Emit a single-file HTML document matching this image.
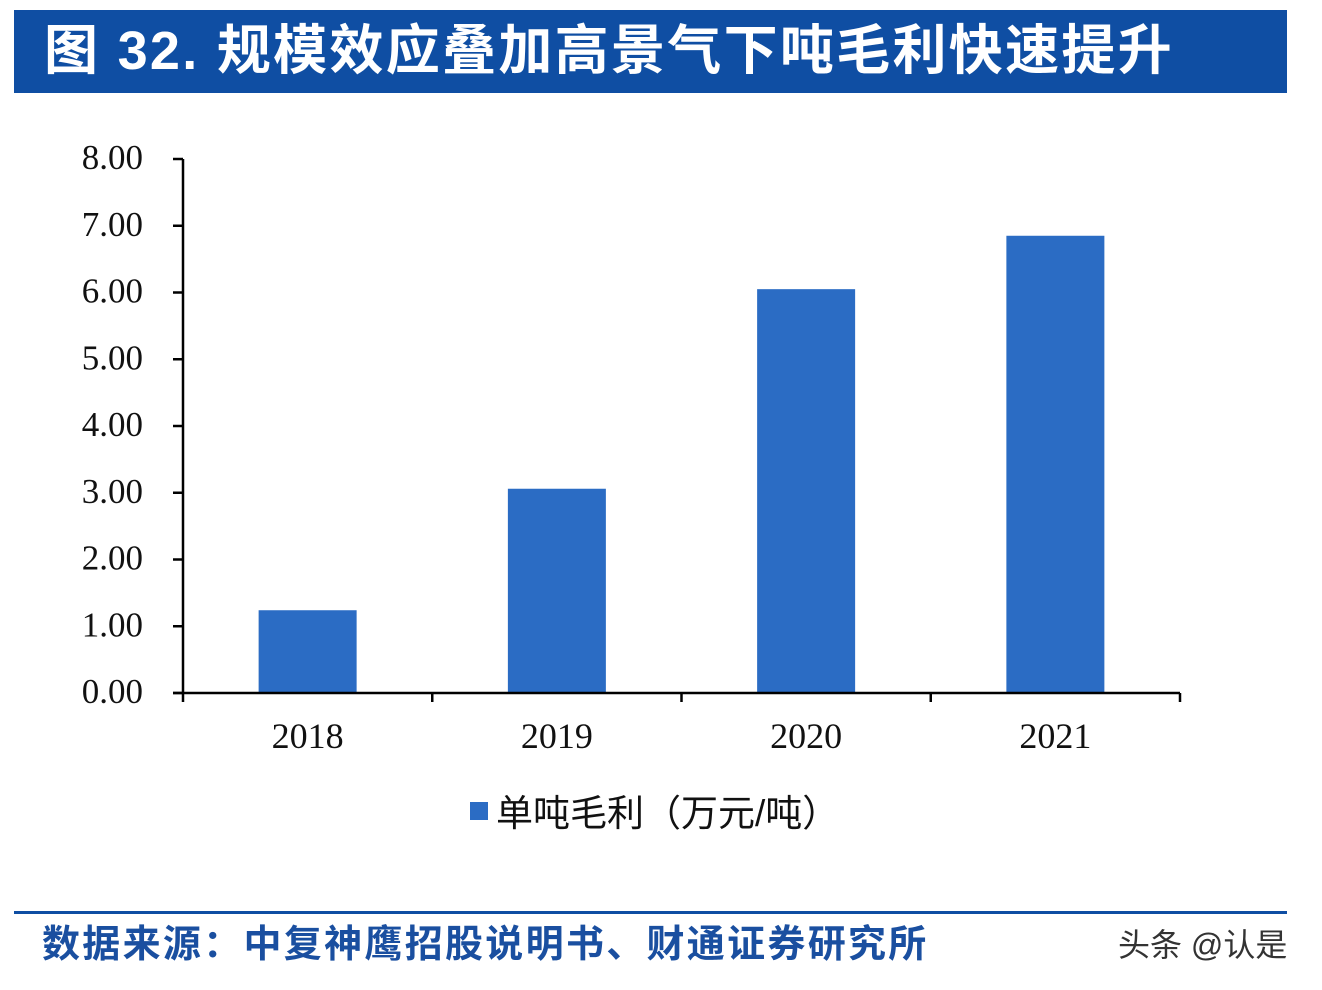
<!DOCTYPE html>
<html><head><meta charset="utf-8"><style>
html,body{margin:0;padding:0;background:#fff;width:1322px;height:990px;overflow:hidden}
body{position:relative;font-family:"Liberation Sans","Noto Sans CJK SC",sans-serif}
#title{position:absolute;left:14px;top:10px;width:1273px;height:83px;background:#0f4ea3;color:#fff;font-weight:bold;font-size:54px;line-height:83px;padding-left:30px;box-sizing:border-box;white-space:nowrap;letter-spacing:2.3px}
#rule{position:absolute;left:14px;top:911px;width:1273px;height:3px;background:#0f4ea3}
#source{position:absolute;left:42px;top:920px;color:#1a4fa0;font-weight:bold;font-size:38px;line-height:50px;white-space:nowrap;letter-spacing:2.3px}
#wm{position:absolute;left:1118px;top:925px;color:#333;font-size:32px;line-height:40px;white-space:nowrap}
svg{position:absolute;left:0;top:0}
</style></head><body>
<div id="title">图 32. 规模效应叠加高景气下吨毛利快速提升</div>
<svg id="chart" width="1322" height="990"></svg>
<div id="rule"></div>
<div id="source">数据来源：中复神鹰招股说明书、财通证券研究所</div>
<div id="wm">头条 @认是</div>
<script>
const categories = ["2018","2019","2020","2021"];
const values = [1.24, 3.06, 6.05, 6.85];
const yTicks = [0,1,2,3,4,5,6,7,8];
const yTickLabels = ["0.00","1.00","2.00","3.00","4.00","5.00","6.00","7.00","8.00"];
const legendLabel = "单吨毛利（万元/吨）";

const svg = document.getElementById('chart');
const NS = 'http://www.w3.org/2000/svg';
const x0 = 183, x1 = 1180, y0 = 693, yTop = 159, yMax = 8;
const yScale = v => y0 - (v / yMax) * (y0 - yTop);
const band = (x1 - x0) / categories.length;
const xCenter = i => x0 + band * (i + 0.5);
const barW = 98;
function mk(tag, attrs){const e=document.createElementNS(NS,tag);for(const k in attrs)e.setAttribute(k,attrs[k]);svg.appendChild(e);return e;}

values.forEach((v,i)=>{
  const r = mk('rect',{x:xCenter(i)-barW/2,y:yScale(v),width:barW,height:y0-yScale(v),fill:'#2b6cc4'});
  
  
});
const ya = mk('line',{x1:x0,y1:yTop,x2:x0,y2:y0+9,stroke:'#000','stroke-width':2.5});


const xa = mk('line',{x1:x0-10,y1:y0,x2:x1,y2:y0,stroke:'#000','stroke-width':2.5});


yTicks.forEach((t,i)=>{
  const y = yScale(t);
  mk('line',{x1:x0-10,y1:y,x2:x0,y2:y,stroke:'#000','stroke-width':2.5});
  const tx = mk('text',{x:143,y:y+10,'text-anchor':'end','font-family':'Liberation Serif, serif','font-size':35,fill:'#111'});
  tx.textContent = yTickLabels[i];
  
  
});
for(let i=1;i<=categories.length;i++){
  const x = x0 + band*i;
  mk('line',{x1:x,y1:y0,x2:x,y2:y0+9,stroke:'#000','stroke-width':2.5});
}
categories.forEach((c,i)=>{
  const tx = mk('text',{x:xCenter(i),y:748,'text-anchor':'middle','font-family':'Liberation Serif, serif','font-size':36,fill:'#111'});
  tx.textContent = c;
  
  
});
const ls = mk('rect',{x:470,y:802,width:18,height:18,fill:'#2b6cc4'});


const lt = mk('text',{x:496,y:826,'font-family':'Liberation Sans, Noto Sans CJK SC, sans-serif','font-size':37,fill:'#111'});
lt.textContent = legendLabel;


</script>
</body></html>
